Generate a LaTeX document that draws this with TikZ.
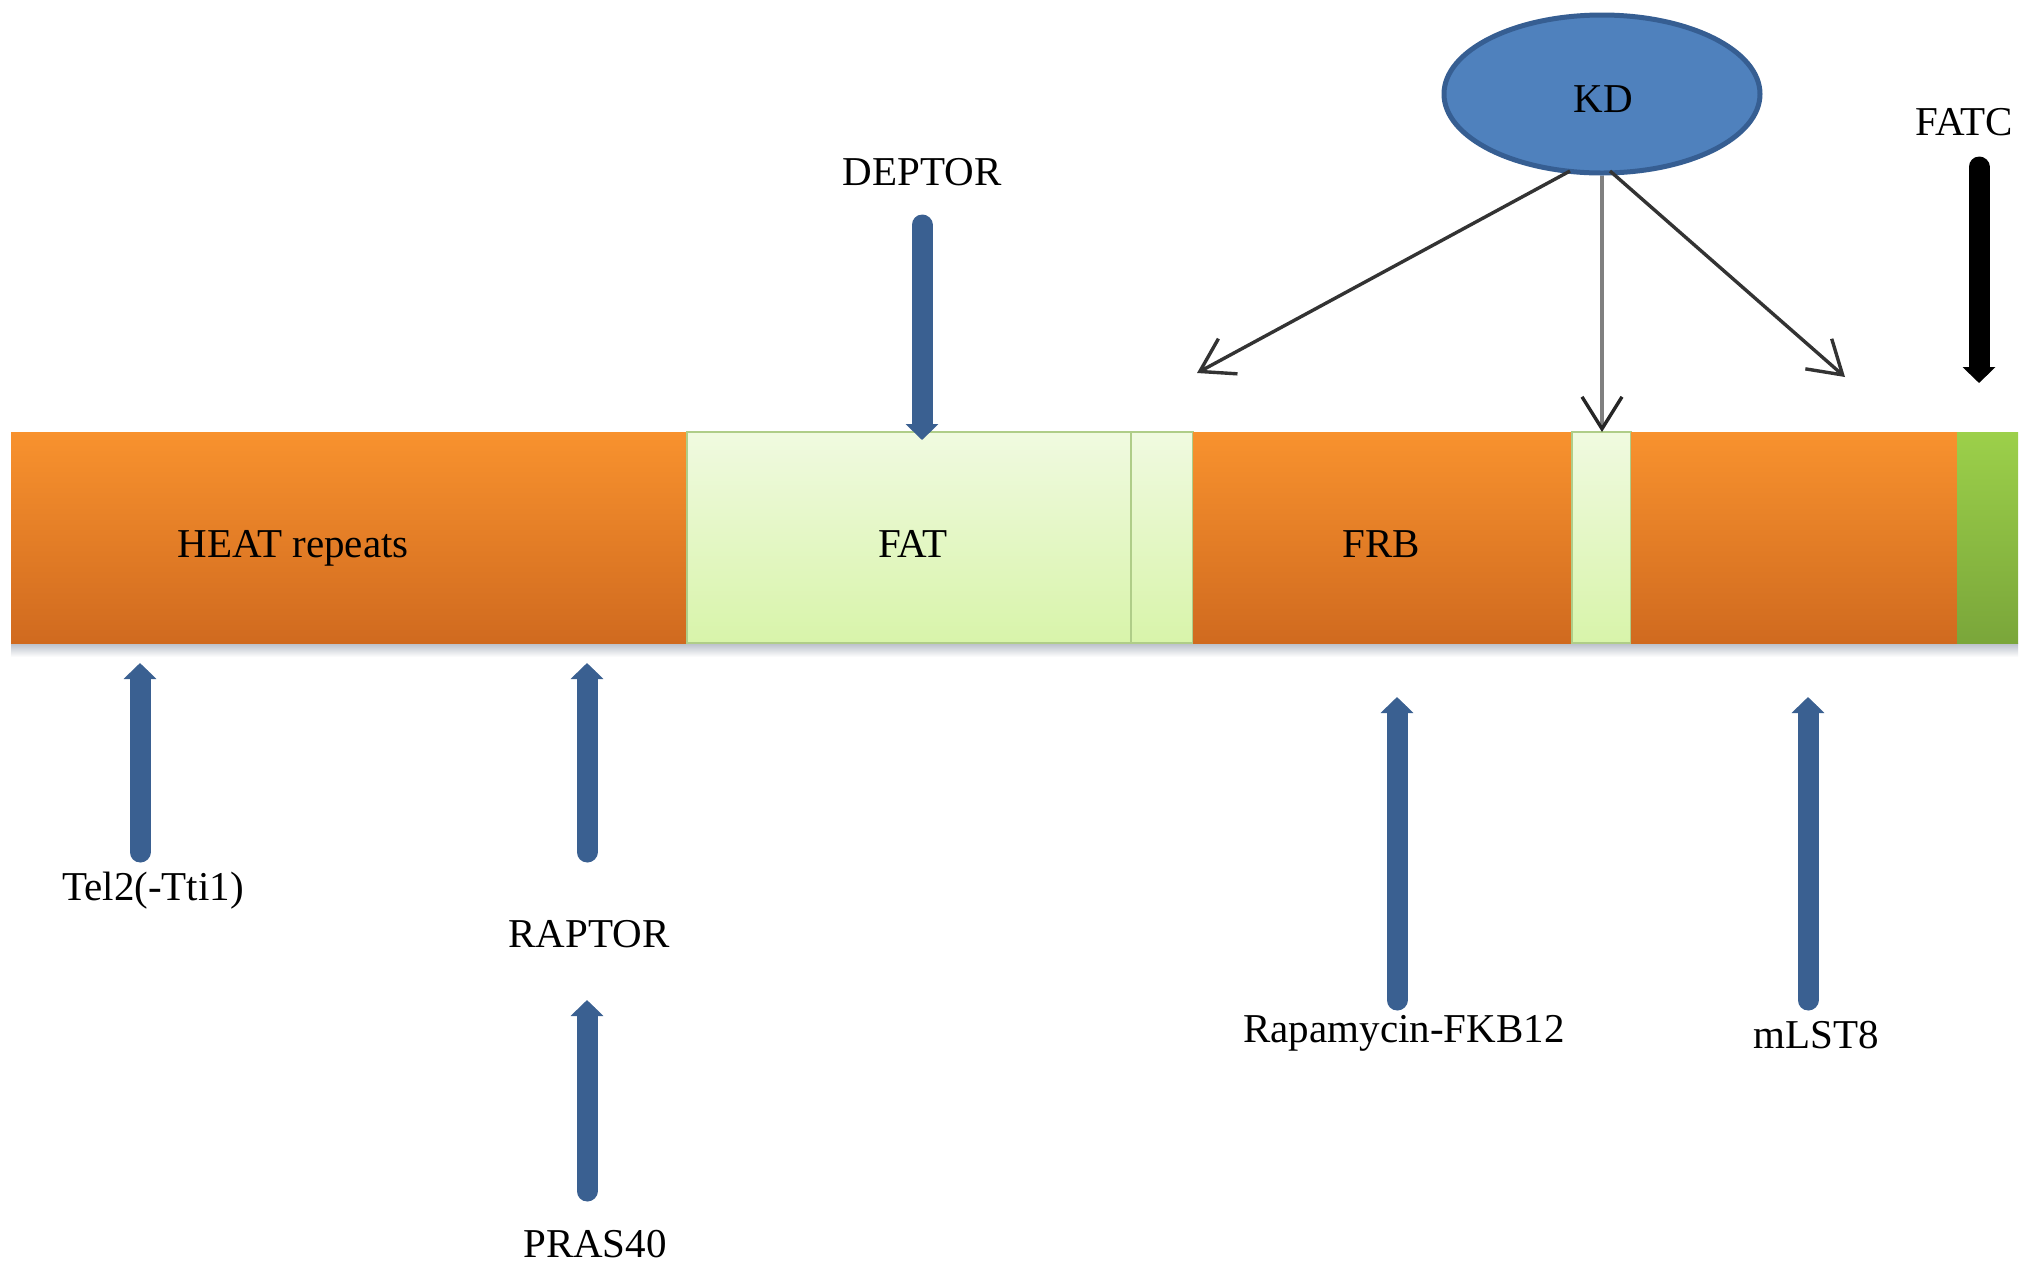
\documentclass[tikz,border=0pt]{standalone}
\usepackage{fontspec}
\setmainfont{Liberation Serif}
\usetikzlibrary{arrows.meta,shapes.geometric}
\definecolor{orT}{HTML}{F8922E}
\definecolor{orB}{HTML}{D06A1F}
\definecolor{lgT}{HTML}{F0FAE0}
\definecolor{lgB}{HTML}{D8F4AA}
\definecolor{lgD}{HTML}{AFCD88}
\definecolor{grT}{HTML}{9CD04A}
\definecolor{grB}{HTML}{7AA63A}
\definecolor{arb}{HTML}{3A6091}
\definecolor{kdf}{HTML}{4F81BD}
\definecolor{kdd}{HTML}{365E92}
\definecolor{shd}{HTML}{B8BEC8}
\begin{document}
\begin{tikzpicture}[x=0.5pt,y=-0.5pt,
  lbl/.style={font=\fontsize{20.5pt}{24pt}\selectfont, inner sep=0pt, anchor=base},
  seg/.style={rectangle, inner sep=0pt, outer sep=0pt, minimum height=105.5pt, anchor=north west},
  orseg/.style={seg, top color=orT, bottom color=orB},
  lgseg/.style={seg, top color=lgT, bottom color=lgB, draw=lgD, line width=1.2pt},
  grseg/.style={seg, top color=grT, bottom color=grB},
  fatarrow/.style={line width=10.5pt, draw=arb, line cap=round, -{Triangle[width=16pt,length=8pt]}},
  blkarrow/.style={fatarrow, draw=black},
  kdarrow/.style={line width=1.7pt, draw=black!80, -{Straight Barb[length=16pt,width=20pt,line width=1.7pt]}},
  kdgrey/.style={kdarrow, draw=black!50, line width=1.7pt, -{Straight Barb[length=16pt,width=20pt,line width=1.7pt,color=black!85]}}
]
\fill[white] (0,0) rectangle (2031,1266);
\useasboundingbox (0,0) rectangle (2031,1266);

% shadow under the bar
\shade[top color=shd, bottom color=white] (11,643) rectangle (2018,657);

% domain bar
\node[orseg, minimum width=338pt] (heat) at (11,432) {};
\node[lgseg, minimum width=222pt] (fat) at (heat.north east) {};
\node[lgseg, minimum width=31pt] (lgA) at (fat.north east) {};
\node[orseg, minimum width=189.5pt] (frb) at (lgA.north east) {};
\node[lgseg, minimum width=29.5pt] (lgB) at (frb.north east) {};
\node[orseg, minimum width=163pt] (orC) at (lgB.north east) {};
\node[grseg, minimum width=30.5pt] (fatc) at (orC.north east) {};

% labels in the bar
\node[lbl] (heatT) at (293,557) {HEAT repeats};
\node[lbl] (fatT) at (913,557) {FAT};
\node[lbl] (frbT) at (1381,557) {FRB};

% KD ellipse
\node[ellipse, fill=kdf, draw=kdd, line width=2.5pt, minimum width=158pt, minimum height=79pt, inner sep=0pt] (kd) at (1602,94) {};
\node[lbl] (kdT) at (1603,112) {KD};

% KD arrows
\coordinate (kdL) at (1197,373);
\coordinate (kdM) at (1602,432);
\coordinate (kdR) at (1845,377);
\coordinate (kdLs) at (1570,171);
\coordinate (kdRs) at (1610,171);
\draw[kdarrow] (kdLs) -- (kdL);
\draw[kdgrey] (kd.south) -- (kdM);
\draw[kdarrow] (kdRs) -- (kdR);

% top labels and arrows
\node[lbl] (deptor) at (922,185) {DEPTOR};
\coordinate (deptorS) at (922,225);
\coordinate (deptorE) at (922,440);
\draw[fatarrow] (deptorS) -- (deptorE);

\node[lbl] (fatcT) at (1964,135) {FATC};
\coordinate (fatcS) at (1979,167);
\coordinate (fatcE) at (1979,383);
\draw[blkarrow] (fatcS) -- (fatcE);

% bottom labels and arrows
\node[lbl] (tel) at (153,900) {Tel2(-Tti1)};
\coordinate (telS) at (140,852);
\coordinate (telE) at (140,663);
\draw[fatarrow] (telS) -- (telE);

\node[lbl] (raptor) at (589,947) {RAPTOR};
\coordinate (raptorS) at (587,852);
\coordinate (raptorE) at (587,663);
\draw[fatarrow] (raptorS) -- (raptorE);

\node[lbl] (pras) at (595,1257) {PRAS40};
\coordinate (prasS) at (587,1191);
\coordinate (prasE) at (587,1000);
\draw[fatarrow] (prasS) -- (prasE);

\node[lbl] (rapa) at (1404,1042) {Rapamycin-FKB12};
\coordinate (rapaS) at (1397,1000);
\coordinate (rapaE) at (1397,697);
\draw[fatarrow] (rapaS) -- (rapaE);

\node[lbl] (mlst) at (1816,1048) {mLST8};
\coordinate (mlstS) at (1808,1000);
\coordinate (mlstE) at (1808,697);
\draw[fatarrow] (mlstS) -- (mlstE);
\end{tikzpicture}
\end{document}
